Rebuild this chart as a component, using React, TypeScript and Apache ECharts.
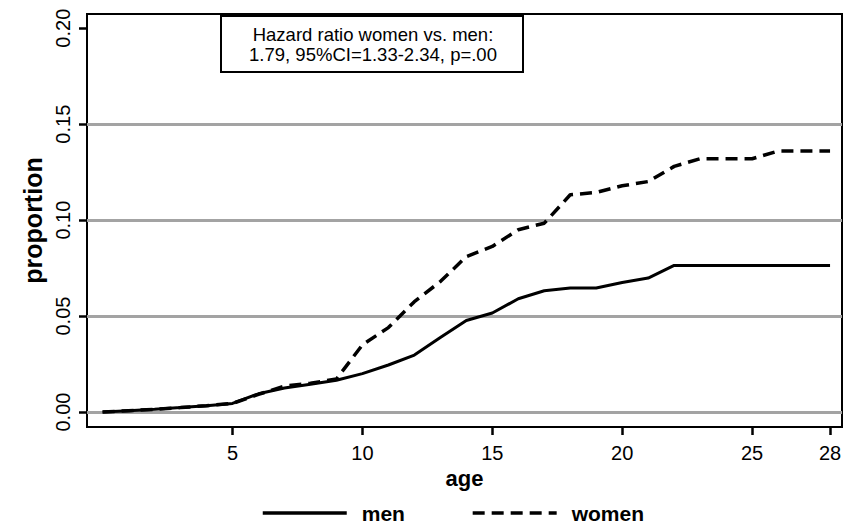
import React, { useEffect, useRef } from "react";
import * as echarts from "echarts";

const ages = [0, 1, 2, 3, 4, 5, 6, 7, 8, 9, 10, 11, 12, 13, 14, 15, 16, 17, 18, 19, 20, 21, 22, 23, 24, 25, 26, 27, 28];
const menValues = [0, 0.0007, 0.0014, 0.0023, 0.0033, 0.0045, 0.0095, 0.0125, 0.0145, 0.0166, 0.020, 0.0245, 0.0297, 0.0388, 0.0477, 0.0516, 0.059, 0.0632, 0.0646, 0.0646, 0.0675, 0.0698, 0.0764, 0.0764, 0.0764, 0.0764, 0.0764, 0.0764, 0.0764];
const womenValues = [0, 0.0007, 0.0014, 0.0023, 0.0033, 0.0045, 0.0092, 0.0135, 0.015, 0.0172, 0.035, 0.044, 0.0575, 0.068, 0.081, 0.0863, 0.095, 0.0984, 0.1132, 0.1144, 0.1179, 0.1201, 0.128, 0.132, 0.132, 0.132, 0.136, 0.136, 0.136];
const xTickValues = [5, 10, 15, 20, 25, 28];
const yTickValues = [0, 0.05, 0.1, 0.15, 0.2];
const gridLineValues = [0, 0.05, 0.1, 0.15];
const annotationLines = ["Hazard ratio women vs. men:", "1.79, 95%CI=1.33-2.34, p=.00"];

const FONT = "'Liberation Sans', Arial, Helvetica, sans-serif";

export default function App() {
  const ref = useRef<HTMLDivElement>(null);
  useEffect(() => {
    document.body.style.margin = "0";
    if (!ref.current) return;
    const chart = echarts.init(ref.current, null, { renderer: "svg" });
    const toPairs = (vals: number[]) => ages.map((a, i) => [a, vals[i]]);
    chart.setOption({
      animation: false,
      backgroundColor: "#ffffff",
      textStyle: { fontFamily: FONT },
      grid: {
        left: 87,
        right: 3,
        top: 14,
        bottom: 96,
        show: true,
        borderColor: "#000",
        borderWidth: 2,
        backgroundColor: "transparent",
      },
      xAxis: {
        type: "value",
        min: -0.6,
        max: 28.46,
        name: "age",
        nameLocation: "middle",
        nameGap: 39,
        nameTextStyle: { fontFamily: FONT, fontWeight: "bold", fontSize: 22, color: "#000" },
        axisLine: { show: true, onZero: false, lineStyle: { color: "#000", width: 2 } },
        splitLine: { show: false },
        axisTick: { show: true, length: 8, lineStyle: { color: "#000", width: 2.5 }, customValues: xTickValues },
        axisLabel: { fontFamily: FONT, fontSize: 20, color: "#000", margin: 16, customValues: xTickValues },
      },
      yAxis: {
        type: "value",
        min: -0.0078,
        max: 0.2074,
        name: "proportion",
        nameLocation: "middle",
        nameGap: 41,
        nameRotate: 90,
        nameTextStyle: { fontFamily: FONT, fontWeight: "bold", fontSize: 25, color: "#000" },
        axisLine: { show: true, onZero: false, lineStyle: { color: "#000", width: 2 } },
        splitLine: { show: false },
        axisTick: { show: true, length: 8, lineStyle: { color: "#000", width: 2.5 }, customValues: yTickValues },
        axisLabel: {
          fontFamily: FONT,
          fontSize: 20,
          color: "#000",
          rotate: 90,
          margin: 14,
          customValues: yTickValues,
          formatter: (v: number) => v.toFixed(2),
        },
      },
      legend: {
        show: true,
        data: ["men", "women"],
        left: 256,
        top: 497,
        itemWidth: 84,
        itemHeight: 14,
        itemGap: 66,
        itemStyle: { opacity: 0 },
        lineStyle: { width: 3.5 },
        textStyle: { fontFamily: FONT, fontWeight: "bold", fontSize: 21, lineHeight: 22, color: "#000", padding: [0, 0, 0, 10] },
      },
      series: [
        {
          name: "men",
          type: "line",
          data: toPairs(menValues),
          symbol: "none",
          z: 3,
          lineStyle: { color: "#000", width: 3, type: "solid" },
          itemStyle: { color: "#000" },
          markLine: {
            silent: true,
            z: 1,
            symbol: ["none", "none"],
            label: { show: false },
            lineStyle: { color: "#a3a3a3", width: 3, type: "solid" },
            data: gridLineValues.map((v) => ({ yAxis: v })),
          },
        },
        {
          name: "women",
          type: "line",
          data: toPairs(womenValues),
          symbol: "none",
          z: 3,
          lineStyle: { color: "#000", width: 3.5, type: [12, 7] },
          itemStyle: { color: "#000" },
        },
      ],
      graphic: [
        {
          type: "group",
          left: 220,
          top: 15,
          children: [
            {
              type: "rect",
              shape: { x: 0, y: 0, width: 302, height: 56 },
              style: { fill: "#fff", stroke: "#000", lineWidth: 2 },
            },
            {
              type: "text",
              x: 152,
              y: 18,
              style: { text: annotationLines[0], fontFamily: FONT, fontSize: 18.5, fill: "#000", align: "center", verticalAlign: "middle" },
            },
            {
              type: "text",
              x: 152,
              y: 38.5,
              style: { text: annotationLines[1], fontFamily: FONT, fontSize: 18.5, fill: "#000", align: "center", verticalAlign: "middle" },
            },
          ],
        },
      ],
    });
    return () => chart.dispose();
  }, []);
  return <div ref={ref} style={{ width: 845, height: 523 }} />;
}
